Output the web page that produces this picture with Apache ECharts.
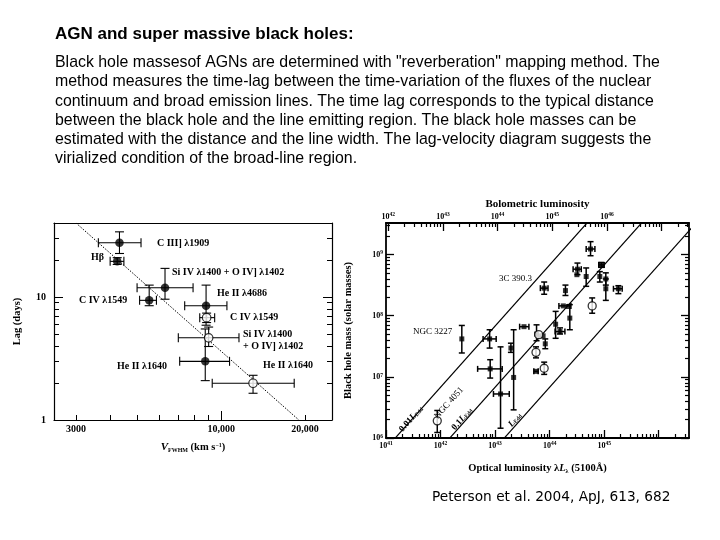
<!DOCTYPE html>
<html>
<head>
<meta charset="utf-8">
<script src="https://cdn.jsdelivr.net/npm/echarts@6/dist/echarts.min.js"></script>
<style>html,body{margin:0;padding:0;background:#fff}#c{width:720px;height:540px}</style>
</head>
<body>
<div id="c"></div>
<script>
// ---------- text ----------
const titleText = 'AGN and super massive black holes:';
const paragraphLines = [
  'Black hole massesof AGNs are determined with "reverberation" mapping method. The',
  'method measures the time-lag between the time-variation of the fluxes of the nuclear',
  'continuum and broad emission lines. The time lag corresponds to the typical distance',
  'between the black hole and the line emitting region. The black hole masses can be',
  'estimated with the distance and the line width. The lag-velocity diagram suggests the',
  'virialized condition of the broad-line region.'
];
const citation = 'Peterson et al. 2004, ApJ, 613, 682';

// ---------- left panel: lag vs line width (NGC 5548) ----------
const velTicks = [3000, 10000, 20000];
const velTickLabels = ['3000', '10,000', '20,000'];
const lagTicks = [1, 10];
const lagTickLabels = ['1', '10'];
// filled points
const fillVel   = [4300, 4220, 6270, 5500, 8810, 8750];
const fillLag   = [27.6, 19.5, 11.9, 9.4, 8.5, 3.0];
const fillVelLo = [3610, 3980, 4975, 5080, 7380, 7080];
const fillVelHi = [5140, 4460, 7910, 5840, 10470, 10700];
const fillLagLo = [22.6, 18.4, 9.6, 8.5, 5.9, 2.09];
const fillLagHi = [33.9, 20.9, 17.1, 12.5, 12.5, 5.5];
// open points
const openVel   = [8850, 9000, 13000];
const openLag   = [6.8, 4.66, 1.99];
const openVelLo = [8360, 7000, 9270];
const openVelHi = [9460, 11570, 18280];
const openLagLo = [6.2, 3.96, 1.65];
const openLagHi = [7.4, 5.7, 2.31];
// virial relation (dotted line)
const fitVel = [3000, 19000];
const fitLag = [40, 1];

// ---------- right panel: mass vs luminosity (log10 values) ----------
const lumExpBottom = [41, 42, 43, 44, 45];
const lumExpTop = [42, 43, 44, 45, 46];
const massExp = [6, 7, 8, 9];
const fLogL  = [44.75, 44.51, 44.50, 44.67, 44.95, 44.92, 45.03, 45.03, 45.26, 43.90, 44.29, 44.25, 44.34, 44.37, 44.11, 44.19, 43.53, 43.76, 43.82, 43.88, 43.92, 43.75, 43.29, 42.91, 43.34, 43.10, 42.90, 42.39];
const fLogM  = [9.09, 8.76, 8.67, 8.64, 8.83, 8.64, 8.60, 8.44, 8.44, 8.45, 8.41, 8.16, 8.15, 7.96, 7.86, 7.74, 7.82, 7.70, 7.67, 7.67, 7.54, 7.09, 7.47, 7.13, 6.99, 6.72, 7.62, 7.62];
const fLogLLo= [44.67, 44.43, null, null, 44.90, null, null, null, 45.17, 43.83, null, 44.17, null, null, null, 44.10, 43.45, null, null, null, null, 43.71, null, 42.68, null, 42.97, 42.78, null];
const fLogLHi= [44.83, 44.58, null, null, 45.00, null, null, null, 45.33, 43.97, null, 44.39, null, null, null, 44.28, 43.62, null, null, null, null, 43.79, null, 43.13, null, 43.26, 43.02, null];
const fLogMLo= [8.98, 8.67, null, 8.48, 8.79, 8.55, 8.50, 8.25, 8.36, 8.35, 8.33, null, null, 7.77, 7.63, 7.70, null, 7.59, null, null, 7.46, null, 7.40, 6.98, 6.46, 6.16, 7.47, 7.39];
const fLogMHi= [9.21, 8.86, null, 8.78, 8.87, 8.72, 8.70, 8.60, 8.49, 8.55, 8.50, null, null, 8.18, 8.07, 7.80, null, 7.85, null, null, 7.62, null, 7.55, 7.28, 7.77, 7.49, 7.77, 7.84];
const oLogL  = [41.94, 43.75, 43.90, 44.78, 43.80];
const oLogM  = [6.28, 7.40, 7.14, 8.16, 7.69];
const oLogMLo= [6.09, 7.31, 7.04, 8.04, null];
const oLogMHi= [6.45, 7.49, 7.24, 8.29, null];
// Eddington-ratio lines: log M = log L - offset
const eddNames = ['0.01', '0.1', '1'];
const eddOffset = [35.17, 36.17, 37.17];

// ---------- helpers ----------
const L = Math.log10;
const SERIF = '"Liberation Serif", "Times New Roman", serif';
function minorTicks(lo, hi) {
  const out = [];
  for (let n = Math.floor(lo); n <= Math.ceil(hi); n++) {
    for (let k = 2; k <= 9; k++) { const v = n + L(k); if (v > lo && v < hi) out.push(v); }
  }
  return out;
}
function findIdx(arr, v) { return arr.findIndex(t => Math.abs(t - v) < 1e-6); }

function axis(kind, gi, pos, min, max, o) {
  const a = {
    type: 'value', gridIndex: gi, position: pos, min: min, max: max,
    splitLine: { show: false },
    axisLine: { show: !!o.line, onZero: false, lineStyle: { color: '#000', width: o.lw || 1.2 } },
    axisTick: { show: true, inside: true, length: o.tlen, customValues: o.ticks, lineStyle: { color: '#000', width: o.tw || 1 } },
    axisLabel: { show: !!o.labels, customValues: o.labels || [], formatter: o.fmt, margin: o.margin || 4,
      color: '#000', fontFamily: SERIF, fontWeight: 'bold', fontSize: o.fs || 10, rich: o.rich },
    axisPointer: { show: false }
  };
  if (o.name) {
    a.name = o.name; a.nameLocation = 'middle'; a.nameGap = o.gap;
    a.nameTextStyle = { color: '#000', fontFamily: SERIF, fontWeight: 'bold', fontSize: o.nfs || 10.5, rich: o.nrich };
  }
  return a;
}

// left panel ranges (log space)
const LX = [L(2500), L(25000)];
const LY = [0, L(40)];
// right panel ranges
const RX = [41, 46.555];
const RXT = [41.96, 47.5];
const RY = [6, 9.515];

const supRich = { s: { fontSize: 5.5, fontFamily: SERIF, fontWeight: 'bold', verticalAlign: 'top', padding: [0, 0, 3, 0] } };
const expFmt = v => '10{s|' + Math.round(v) + '}';

const xAxes = [
  axis('x', 0, 'bottom', LX[0], LX[1], { line: true, ticks: [L(10000)], tlen: 9,
    labels: velTicks.map(L), fmt: v => velTickLabels[findIdx(velTicks.map(L), v)], margin: 4,
    name: '{i|V}{sub|FWHM} {b|(km s}{sup|−1}{b|)}', gap: 22,
    nrich: { i: { fontStyle: 'italic', fontFamily: SERIF, fontSize: 11 }, sub: { fontSize: 6, fontFamily: SERIF, verticalAlign: 'bottom' },
             b: { fontFamily: SERIF, fontWeight: 'bold', fontSize: 10.5 }, sup: { fontSize: 6, fontFamily: SERIF, fontWeight: 'bold', verticalAlign: 'top' } } }),
  axis('x', 0, 'bottom', LX[0], LX[1], { ticks: [3000, 4000, 5000, 6000, 7000, 8000, 9000, 20000].map(L), tlen: 5 }),
  axis('x', 0, 'top', LX[0], LX[1], { line: true, ticks: [], tlen: 0 }),
  axis('x', 0, 'top', LX[0], LX[1], { ticks: [], tlen: 0 }),
  axis('x', 1, 'bottom', RX[0], RX[1], { line: true, lw: 1.8, ticks: [41, 42, 43, 44, 45, 46], tlen: 8, tw: 1.3,
    labels: lumExpBottom, fmt: expFmt, rich: supRich, fs: 8, margin: 3,
    name: 'Optical luminosity λ{i|L}{sub|λ} (5100Å)', gap: 25,
    nrich: { i: { fontStyle: 'italic', fontWeight: 'bold', fontFamily: SERIF, fontSize: 10.5 }, sub: { fontSize: 6, fontFamily: SERIF, verticalAlign: 'bottom' } } }),
  axis('x', 1, 'bottom', RX[0], RX[1], { ticks: minorTicks(RX[0], RX[1]), tlen: 4, tw: 1.2 }),
  axis('x', 1, 'top', RXT[0], RXT[1], { line: true, lw: 1.8, ticks: [42, 43, 44, 45, 46, 47], tlen: 8, tw: 1.3,
    labels: lumExpTop, fmt: expFmt, rich: supRich, fs: 8, margin: 2,
    name: 'Bolometric luminosity', gap: 13, nfs: 11 }),
  axis('x', 1, 'top', RXT[0], RXT[1], { ticks: minorTicks(RXT[0], RXT[1]), tlen: 4, tw: 1.2 })
];
const yAxes = [
  axis('y', 0, 'left', LY[0], LY[1], { line: true, ticks: lagTicks.map(L), tlen: 9,
    labels: lagTicks.map(L), fmt: v => lagTickLabels[findIdx(lagTicks.map(L), v)], margin: 8,
    name: 'Lag (days)', gap: 31 }),
  axis('y', 0, 'left', LY[0], LY[1], { ticks: minorTicks(LY[0], LY[1]), tlen: 5 }),
  axis('y', 0, 'right', LY[0], LY[1], { line: true, ticks: lagTicks.map(L), tlen: 9 }),
  axis('y', 0, 'right', LY[0], LY[1], { ticks: minorTicks(LY[0], LY[1]), tlen: 5 }),
  axis('y', 1, 'left', RY[0], RY[1], { line: true, lw: 1.8, ticks: massExp, tlen: 8, tw: 1.3,
    labels: massExp, fmt: expFmt, rich: supRich, fs: 8, margin: 3,
    name: 'Black hole mass (solar masses)', gap: 32 }),
  axis('y', 1, 'left', RY[0], RY[1], { ticks: minorTicks(RY[0], RY[1]), tlen: 4, tw: 1.2 }),
  axis('y', 1, 'right', RY[0], RY[1], { line: true, lw: 1.8, ticks: massExp, tlen: 8, tw: 1.3 }),
  axis('y', 1, 'right', RY[0], RY[1], { ticks: minorTicks(RY[0], RY[1]), tlen: 4, tw: 1.2 })
];

function errBars(xi, yi, data, vertical, cap, lw) {
  return {
    type: 'custom', xAxisIndex: xi, yAxisIndex: yi, silent: true, z: 2,
    encode: vertical ? { x: 0, y: [1, 2] } : { x: [0, 1], y: 2 },
    data: data,
    renderItem: function (params, api) {
      let a, b;
      if (vertical) { a = api.coord([api.value(0), api.value(1)]); b = api.coord([api.value(0), api.value(2)]); }
      else { a = api.coord([api.value(0), api.value(2)]); b = api.coord([api.value(1), api.value(2)]); }
      const st = { stroke: '#000', lineWidth: lw };
      const ch = [{ type: 'line', shape: { x1: a[0], y1: a[1], x2: b[0], y2: b[1] }, style: st }];
      [a, b].forEach(p => {
        ch.push(vertical
          ? { type: 'line', shape: { x1: p[0] - cap, y1: p[1], x2: p[0] + cap, y2: p[1] }, style: st }
          : { type: 'line', shape: { x1: p[0], y1: p[1] - cap, x2: p[0], y2: p[1] + cap }, style: st });
      });
      return { type: 'group', children: ch };
    }
  };
}

// left panel series data (log space)
const lVert = [], lHor = [];
fillVel.forEach((v, i) => { lVert.push([L(v), L(fillLagLo[i]), L(fillLagHi[i])]); lHor.push([L(fillVelLo[i]), L(fillVelHi[i]), L(fillLag[i])]); });
openVel.forEach((v, i) => { lVert.push([L(v), L(openLagLo[i]), L(openLagHi[i])]); lHor.push([L(openVelLo[i]), L(openVelHi[i]), L(openLag[i])]); });

// right panel
const rVert = [], rHor = [];
fLogL.forEach((x, i) => {
  if (fLogMLo[i] != null) rVert.push([x, fLogMLo[i], fLogMHi[i]]);
  if (fLogLLo[i] != null) rHor.push([fLogLLo[i], fLogLHi[i], fLogM[i]]);
});
oLogL.forEach((x, i) => { if (oLogMLo[i] != null) rVert.push([x, oLogMLo[i], oLogMHi[i]]); });

const series = [
  { type: 'line', xAxisIndex: 0, yAxisIndex: 0, data: fitVel.map((v, i) => [L(v), L(fitLag[i])]), symbol: 'none',
    lineStyle: { color: '#000', width: 1, type: [1.5, 1.5] }, silent: true, z: 1 },
  errBars(0, 0, lVert, true, 4.5, 1.1),
  errBars(0, 0, lHor, false, 4.5, 1.1),
  { type: 'scatter', xAxisIndex: 0, yAxisIndex: 0, data: fillVel.map((v, i) => [L(v), L(fillLag[i])]), symbol: 'circle', symbolSize: 8.5,
    itemStyle: { color: '#000' }, silent: true, z: 3 },
  { type: 'scatter', xAxisIndex: 0, yAxisIndex: 0, data: openVel.map((v, i) => [L(v), L(openLag[i])]), symbol: 'circle', symbolSize: 8.5,
    itemStyle: { color: '#fff', borderColor: '#000', borderWidth: 1.2 }, silent: true, z: 4 }
];
eddOffset.forEach((off, k) => {
  series.push({ type: 'line', xAxisIndex: 4, yAxisIndex: 4, clip: true, symbol: 'none', silent: true,
    data: [[40, 40 - off], [48, 48 - off]], lineStyle: { color: '#000', width: 1.2 }, z: 1 });
});
series.push(errBars(4, 4, rVert, true, 3, 1.5));
series.push(errBars(4, 4, rHor, false, 3, 1.5));
series.push({ type: 'scatter', xAxisIndex: 4, yAxisIndex: 4, data: fLogL.map((x, i) => [x, fLogM[i]]), symbol: 'rect', symbolSize: 5,
  itemStyle: { color: '#000' }, silent: true, z: 3 });
series.push({ type: 'scatter', xAxisIndex: 4, yAxisIndex: 4, data: oLogL.map((x, i) => [x, oLogM[i]]), symbol: 'circle', symbolSize: 8,
  itemStyle: { color: '#fff', borderColor: '#000', borderWidth: 1.3 }, silent: true, z: 4 });

// ---------- annotations ----------
const labFont = 'bold 10px ' + SERIF;
function t(x, y, text, opts) {
  opts = opts || {};
  return { type: 'text', x: x, y: y, rotation: opts.rot || 0, silent: true, z: 10,
    style: { text: text, font: opts.font || labFont, fill: '#000', align: opts.align || 'left', verticalAlign: 'middle', rich: opts.rich } };
}
const sansFont = '15.9px "Liberation Sans", Arial, sans-serif';
const graphics = [
  t(55, 34, titleText, { font: 'bold 17px "Liberation Sans", Arial, sans-serif' })
];
paragraphLines.forEach((s, i) => graphics.push(t(55, 63 + 19.1 * i, s, { font: sansFont })));
graphics.push(t(432, 497, citation, { font: '13.7px "DejaVu Sans", Verdana, sans-serif' }));

// left panel line labels
const leftLabels = [
  [157, 243, 'C III] λ1909'], [91, 257, 'Hβ'], [172, 272, 'Si IV λ1400 + O IV] λ1402'],
  [217, 293, 'He II λ4686'], [79, 300, 'C IV λ1549'], [230, 317, 'C IV λ1549'],
  [243, 334, 'Si IV λ1400'], [243, 346, '+ O IV] λ1402'], [117, 366, 'He II λ1640'], [263, 365, 'He II λ1640']
];
leftLabels.forEach(l => graphics.push(t(l[0], l[1], l[2])));
// right panel labels
const rFont = '9px ' + SERIF;
graphics.push(t(499, 279, '3C 390.3', { font: rFont }));
graphics.push(t(413, 332, 'NGC 3227', { font: rFont }));
const rot = 48.3 * Math.PI / 180;
const eddRich = { i: { fontStyle: 'italic', fontWeight: 'bold', fontSize: 9, fontFamily: SERIF }, s: { fontSize: 5.5, fontWeight: 'bold', fontFamily: SERIF, verticalAlign: 'bottom' },
  n: { fontSize: 9, fontWeight: 'bold', fontFamily: SERIF } };
graphics.push(t(449, 403, 'NGC 4051', { font: rFont, rot: rot, align: 'center' }));
graphics.push(t(411, 419, '{n|0.01}{i|L}{s|Edd}', { rot: rot, align: 'center', rich: eddRich }));
graphics.push(t(462, 419, '{n|0.1}{i|L}{s|Edd}', { rot: rot, align: 'center', rich: eddRich }));
graphics.push(t(515, 420, '{i|L}{s|Edd}', { rot: rot, align: 'center', rich: eddRich }));

const chart = echarts.init(document.getElementById('c'));
chart.setOption({
  animation: false,
  backgroundColor: '#fff',
  grid: [
    { left: 54, top: 223, width: 278, height: 197, containLabel: false },
    { left: 386, top: 223, width: 303, height: 215, containLabel: false }
  ],
  xAxis: xAxes,
  yAxis: yAxes,
  series: series,
  graphic: graphics
});
</script>
</body>
</html>
